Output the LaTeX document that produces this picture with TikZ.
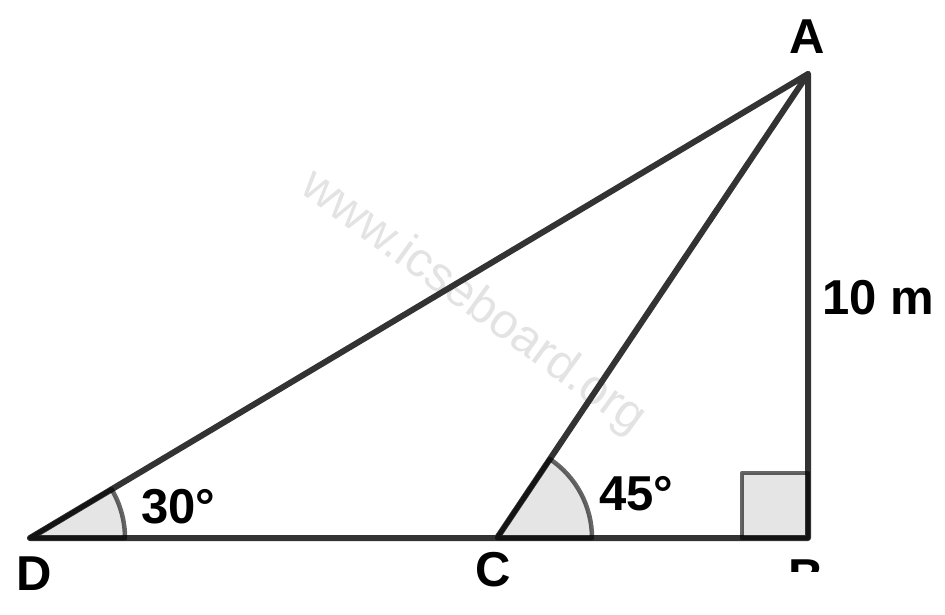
\documentclass[tikz,border=0pt]{standalone}
\usepackage{fontspec}
\setmainfont{Liberation Sans}
\begin{document}
\begin{tikzpicture}[x=1pt,y=1pt,
  edge/.style={draw=black!80, line width=6pt, line cap=round, line join=round},
  shade/.style={fill=black!10},
  rim/.style={draw=black, draw opacity=0.6, line width=4.5pt, line join=round},
  lbl/.style={inner sep=0pt, font=\fontsize{49}{58}\selectfont\bfseries},
  wm/.style={inner sep=0pt, text=black!11, font=\fontsize{49}{58}\selectfont}]
\useasboundingbox (0,0) rectangle (945,614);
\coordinate (A) at (808,540);
\coordinate (B) at (808,76);
\coordinate (C) at (497,76);
\coordinate (D) at (30,76);
% watermark
\node[wm, rotate=-36] (wmk) at (473,311) {www.icseboard.org};
% shaded angle marks
\fill[shade] (D) -- ++(95,0) arc[start angle=0, end angle=30.81, radius=95] -- cycle;
\fill[shade] (C) -- ++(95,0) arc[start angle=0, end angle=56.17, radius=95] -- cycle;
\fill[shade] (742,76) rectangle (808,141);
% triangle
\draw[edge] (D) -- (B) -- (A) -- cycle;
\draw[edge] (C) -- (A);
% outlines of marks
\draw[rim] (D) -- ++(95,0) arc[start angle=0, end angle=30.81, radius=95] -- cycle;
\draw[rim] (C) -- ++(95,0) arc[start angle=0, end angle=56.17, radius=95] -- cycle;
\draw[rim] (742,76) rectangle (808,141);
% labels
\node[lbl, anchor=base] (lA) at (807,560) {A};
\node[lbl, anchor=base] (lD) at (34,24) {D};
\node[lbl, anchor=base] (lC) at (493,28) {C};
\begin{scope}
\clip (700,43) rectangle (945,120);
\node[lbl, anchor=base] (lB) at (806,21) {B};
\end{scope}
\node[lbl, anchor=base west] (side) at (822,299) {10 m};
\node[lbl, anchor=base west] (a30) at (141,91) {30°};
\node[lbl, anchor=base west] (a45) at (599,104) {45°};
\end{tikzpicture}
\end{document}
